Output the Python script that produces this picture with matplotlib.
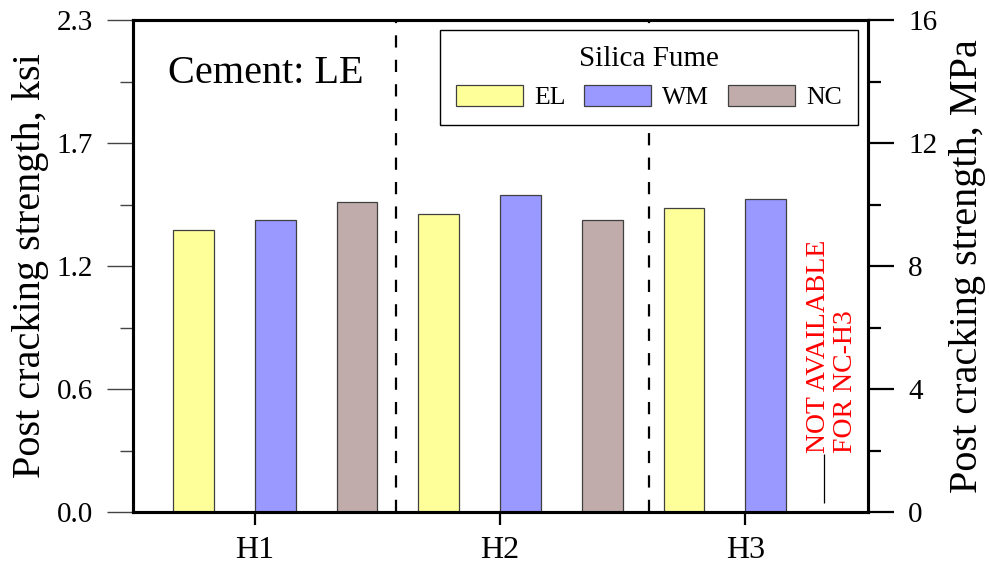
import matplotlib
matplotlib.use('Agg')
import matplotlib.pyplot as plt
import numpy as np
from matplotlib.ticker import FixedLocator, FuncFormatter
from matplotlib.patches import Patch

plt.rcParams['font.family'] = ['Liberation Serif', 'DejaVu Serif']

# data (MPa)
groups = ['H1', 'H2', 'H3']
fumes = ['EL', 'WM', 'NC']
el_mpa = [9.17, 9.68, 9.88]
wm_mpa = [9.50, 10.30, 10.17]
nc_mpa = [10.08, 9.50, np.nan]  # not available for NC-H3
mpa_ticks = [0, 4, 8, 12, 16]
mpa_minor = [2, 6, 10, 14]
MPA_TO_KSI = 0.145038

colors = {'EL': '#ffff99', 'WM': '#9999ff', 'NC': '#c0acaa'}
values = {'EL': el_mpa, 'WM': wm_mpa, 'NC': nc_mpa}

W, H = 989, 569
fig = plt.figure(figsize=(W / 100, H / 100), dpi=100)
ax = fig.add_axes([133 / W, 57 / H, 735 / W, 492 / H])

for s, f in enumerate(fumes):
    xs = [3 * g + s for g in range(len(groups))]
    ax.bar(xs, values[f], width=0.5, color=colors[f], edgecolor='#404040',
           linewidth=0.9, label=f, zorder=2)

# group separators
for xsep in [2.48, 5.57]:
    ax.axvline(xsep, color='black', lw=1.6, linestyle=(0, (5.5, 5.5)), zorder=1)

ax.set_xlim(-0.74, 8.25)
ax.set_ylim(0, 16)

ax.set_xticks([3 * g + 0.75 for g in range(len(groups))])
ax.set_xticklabels(groups, fontsize=23)
ax.tick_params(axis='x', direction='out', length=9.5, width=1.6, pad=8)

ax.yaxis.set_major_locator(FixedLocator(mpa_ticks))
ax.yaxis.set_minor_locator(FixedLocator(mpa_minor))
ax.yaxis.set_major_formatter(FuncFormatter(lambda v, p: '%.1f' % (v * MPA_TO_KSI)))
ax.tick_params(axis='y', which='major', direction='out', length=19, width=1.0,
               color='#444444', labelsize=21, pad=10)
ax.tick_params(axis='y', which='minor', direction='out', length=9.5, width=1.0,
               color='#444444')

for sp in ax.spines.values():
    sp.set_linewidth(2.2)

ax2 = ax.twinx()
ax2.set_ylim(0, 16)
ax2.yaxis.set_major_locator(FixedLocator(mpa_ticks))
ax2.yaxis.set_minor_locator(FixedLocator(mpa_minor))
ax2.tick_params(axis='y', which='major', direction='out', length=19, width=1.6,
                labelsize=21, pad=10)
ax2.tick_params(axis='y', which='minor', direction='out', length=9, width=1.6)
for sp in ax2.spines.values():
    sp.set_linewidth(2.2)

fig.text(31 / W, 1 - 266 / H, 'Post cracking strength, ksi', rotation=90,
         ha='center', va='center', fontsize=29)
fig.text(968 / W, 1 - 266 / H, 'Post cracking strength, MPa', rotation=90,
         ha='center', va='center', fontsize=29)

ax.text(0.0476, 0.872, 'Cement: LE', transform=ax.transAxes, fontsize=29,
        va='baseline', ha='left')

# note for the missing bar
ax.text(7.727, 1.92, 'NOT AVAILABLE', rotation=90, rotation_mode='anchor',
        ha='left', va='baseline', color='red', fontsize=20)
ax.text(8.057, 1.92, 'FOR NC-H3', rotation=90, rotation_mode='anchor',
        ha='left', va='baseline', color='red', fontsize=20)
ax.vlines(7.715, 0.3, 1.9, color='black', lw=0.9)

handles = [Patch(facecolor=colors[f], edgecolor='#404040', linewidth=0.9) for f in fumes]
leg = ax2.legend(handles, fumes, title='Silica Fume', ncol=3, loc='upper right',
                 fontsize=18.5, title_fontsize=21, frameon=True, fancybox=False,
                 edgecolor='black', framealpha=1, handlelength=2.6,
                 handleheight=0.92, handletextpad=0.45, columnspacing=0.72,
                 borderaxespad=0.39, borderpad=0.62)
leg.get_frame().set_linewidth(1.0)

fig.savefig('out.png', dpi=100)
